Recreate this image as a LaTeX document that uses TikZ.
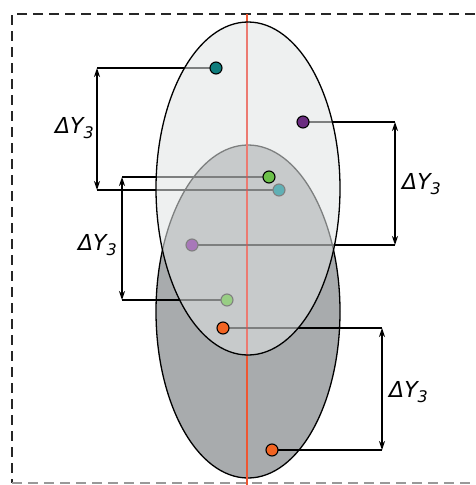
\documentclass[tikz,border=0pt]{standalone}
\usepackage{fontspec}
\newfontfamily\labfont{DejaVu Sans}
\usetikzlibrary{arrows.meta}
\definecolor{darkfill}{RGB}{168,171,173}
\definecolor{topfill}{RGB}{224,228,228}
\definecolor{redline}{RGB}{238,86,50}
\definecolor{redtint}{RGB}{245,70,70}
\definecolor{cteal}{RGB}{14,125,125}
\definecolor{cpurple}{RGB}{106,44,128}
\definecolor{cgreen}{RGB}{108,192,74}
\definecolor{corange}{RGB}{242,100,34}
\definecolor{lteal}{RGB}{96,176,181}
\definecolor{lpurple}{RGB}{168,120,185}
\definecolor{lgreen}{RGB}{152,206,132}
\newcommand{\dy}{\labfont\itshape ΔY\raisebox{-0.35ex}{\fontsize{16}{17}\selectfont 3}}
\begin{document}
\begin{tikzpicture}[x=1pt,y=-1pt,
  dot/.style={circle,draw=black,line width=1.1pt,minimum size=12pt,inner sep=0pt},
  fdot/.style={circle,draw=black!50,line width=1.1pt,minimum size=12pt,inner sep=0pt},
  lead/.style={line width=1.3pt,black},
  dim/.style={line width=1.3pt,black,{Stealth[length=9pt,width=6pt]}-{Stealth[length=9pt,width=6pt]}},
  lab/.style={font=\fontsize{22}{24}\selectfont,inner sep=0pt},
  frame/.style={line width=1.3pt,black!85,dash pattern=on 10pt off 6pt}]
\useasboundingbox (0,0) rectangle (475,485);
% frame
\coordinate (fa) at (12,14);
\coordinate (fb) at (475,14);
\coordinate (fc) at (12,483);
\coordinate (fd) at (475,483);
\draw[frame] (fb) -- (fa) -- (fc);
\draw[frame,black!40] (fc) -- (fd);
% bottom ellipse
\coordinate (cb) at (248,311.5);
\coordinate (ct) at (248,188.5);
\draw[fill=darkfill,line width=1.3pt] (cb) ellipse [x radius=92,y radius=166.5];
% red axis
\coordinate (ra) at (247,14);
\coordinate (rb) at (247,485);
\draw[redline,line width=2pt] (ra) -- (rb);
% dot positions
\coordinate (p1) at (216,68);
\coordinate (p2) at (303,122);
\coordinate (p3) at (269,177);
\coordinate (q1) at (279,190);
\coordinate (q2) at (192,245);
\coordinate (q3) at (227,300);
\coordinate (p4) at (223,328);
\coordinate (q4) at (272,450);
% dimension ends
\coordinate (a1) at (97,68);
\coordinate (b1) at (97,190);
\coordinate (a2) at (395,122);
\coordinate (b2) at (395,245);
\coordinate (a3) at (122,177);
\coordinate (b3) at (122,300);
\coordinate (a4) at (382,328);
\coordinate (b4) at (382,450);
% leader lines
\draw[lead] (a1) -- (p1);
\draw[lead] (b1) -- (q1);
\draw[lead] (a2) -- (p2);
\draw[lead] (b2) -- (q2);
\draw[lead] (a3) -- (p3);
\draw[lead] (b3) -- (q3);
\draw[lead] (a4) -- (p4);
\draw[lead] (b4) -- (q4);
% top ellipse (translucent)
\fill[topfill,fill opacity=0.56] (ct) ellipse [x radius=92,y radius=166.5];
\begin{scope}
  \clip (ct) ellipse [x radius=92,y radius=166.5];
  \draw[redtint,line width=2pt,opacity=0.45] (ra) -- (rb);
\end{scope}
\draw[line width=1.3pt] (ct) ellipse [x radius=92,y radius=166.5];
% dimension arrows
\draw[dim] (a1) -- (b1);
\draw[dim] (a2) -- (b2);
\draw[dim] (a3) -- (b3);
\draw[dim] (a4) -- (b4);
% labels
\node[lab,anchor=east] (l1) at (94,128) {\dy};
\node[lab,anchor=west] (l2) at (402,184) {\dy};
\node[lab,anchor=east] (l3) at (117,245) {\dy};
\node[lab,anchor=west] (l4) at (389,392) {\dy};
% dots
\node[fdot,fill=lteal] (dq1) at (q1) {};
\node[fdot,fill=lpurple] (dq2) at (q2) {};
\node[fdot,fill=lgreen] (dq3) at (q3) {};
\node[dot,fill=cteal] (dp1) at (p1) {};
\node[dot,fill=cpurple] (dp2) at (p2) {};
\node[dot,fill=cgreen] (dp3) at (p3) {};
\node[dot,fill=corange] (dp4) at (p4) {};
\node[dot,fill=corange] (dq4) at (q4) {};
\end{tikzpicture}
\end{document}
